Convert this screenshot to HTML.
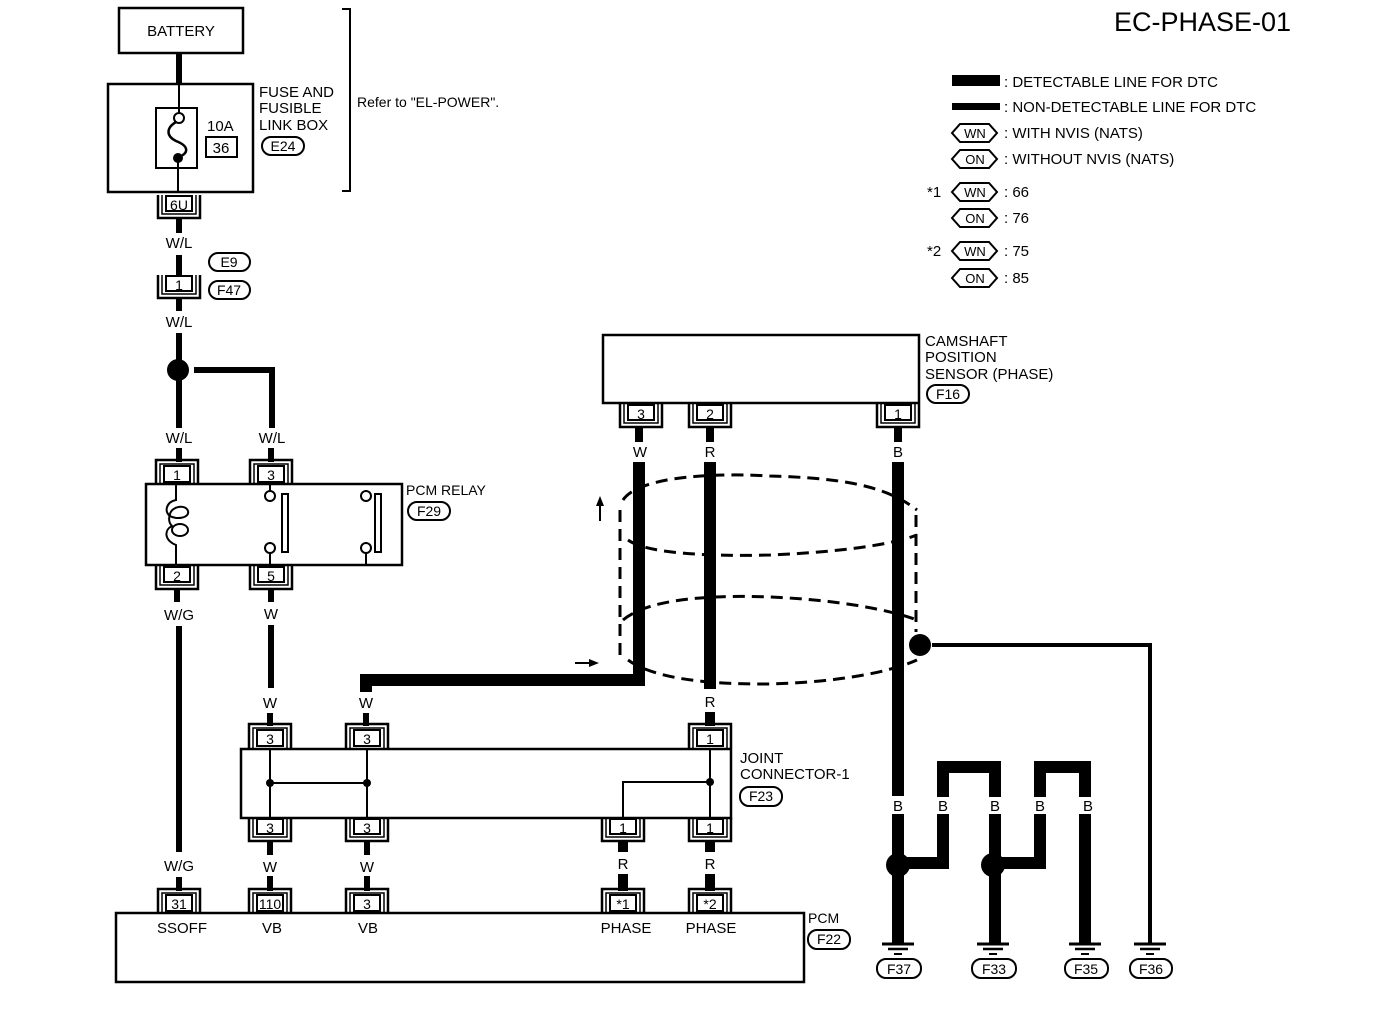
<!DOCTYPE html>
<html><head><meta charset="utf-8"><style>
html,body{margin:0;padding:0;background:#fff;}
svg{display:block;}
text{font-family:"Liberation Sans",Arial,sans-serif;fill:#000;}
</style></head><body>
<svg width="1392" height="1012" viewBox="0 0 1392 1012" xmlns="http://www.w3.org/2000/svg">
<defs>
<g id="cd"><path d="M-21,0 V23 H21 V0" fill="none" stroke="#000" stroke-width="2.5"/><path d="M-17,0 V19 H17 V0" fill="none" stroke="#000" stroke-width="1.5"/><rect x="-13" y="1" width="26" height="15" fill="#fff" stroke="#000" stroke-width="2"/></g>
<g id="cu"><path d="M-21,0 V-24 H21 V0" fill="none" stroke="#000" stroke-width="2.5"/><path d="M-17,0 V-20 H17 V0" fill="none" stroke="#000" stroke-width="1.5"/><rect x="-13" y="-18" width="26" height="16" fill="#fff" stroke="#000" stroke-width="2"/></g>
<g id="gnd"><line x1="-16" y1="0" x2="16" y2="0" stroke="#000" stroke-width="3"/><line x1="-10" y1="5" x2="10" y2="5" stroke="#000" stroke-width="2.5"/><line x1="-4" y1="10" x2="4" y2="10" stroke="#000" stroke-width="2"/></g>
</defs>

<text x="1114" y="31" font-size="27">EC-PHASE-01</text>

<rect x="952" y="75" width="48" height="11" fill="#000"/>
<text x="1004" y="87" font-size="15">: DETECTABLE LINE FOR DTC</text>
<rect x="952" y="103" width="48" height="7" fill="#000"/>
<text x="1004" y="112" font-size="15">: NON-DETECTABLE LINE FOR DTC</text>
<g fill="none" stroke="#000" stroke-width="2">
<polygon points="952,133 960,124 989,124 997,133 989,142 960,142"/>
<polygon points="952,159 960,150 989,150 997,159 989,168 960,168"/>
<polygon points="952,192 960,183 989,183 997,192 989,201 960,201"/>
<polygon points="952,218 960,209 989,209 997,218 989,227 960,227"/>
<polygon points="952,251 960,242 989,242 997,251 989,260 960,260"/>
<polygon points="952,278 960,269 989,269 997,278 989,287 960,287"/>
</g>
<g font-size="13" text-anchor="middle">
<text x="975" y="138">WN</text><text x="975" y="164">ON</text>
<text x="975" y="197">WN</text><text x="975" y="223">ON</text>
<text x="975" y="256">WN</text><text x="975" y="283">ON</text>
</g>
<g font-size="15">
<text x="1004" y="138">: WITH NVIS (NATS)</text>
<text x="1004" y="164">: WITHOUT NVIS (NATS)</text>
<text x="1004" y="197">: 66</text><text x="1004" y="223">: 76</text>
<text x="1004" y="256">: 75</text><text x="1004" y="283">: 85</text>
<text x="927" y="197">*1</text><text x="927" y="256">*2</text>
</g>

<rect x="119" y="8" width="124" height="45" fill="none" stroke="#000" stroke-width="2.5"/>
<text x="181" y="36" font-size="15" text-anchor="middle">BATTERY</text>
<line x1="179" y1="53" x2="179" y2="84" stroke="#000" stroke-width="6"/>
<rect x="108" y="84" width="145" height="108" fill="none" stroke="#000" stroke-width="2.5"/>
<rect x="156" y="108" width="41" height="60" fill="none" stroke="#000" stroke-width="2"/>
<line x1="179" y1="84" x2="179" y2="113" stroke="#000" stroke-width="2"/>
<line x1="178" y1="160" x2="178" y2="192" stroke="#000" stroke-width="2"/>
<circle cx="179" cy="118" r="5" fill="#fff" stroke="#000" stroke-width="2"/>
<circle cx="178" cy="158" r="5" fill="#000"/>
<path d="M176,122 C166,128 166,136 176,141 C189,146 189,153 179,157" fill="none" stroke="#000" stroke-width="2.5"/>
<text x="207" y="131" font-size="15">10A</text>
<rect x="206" y="137" width="31" height="20" fill="none" stroke="#000" stroke-width="2"/>
<text x="221" y="153" font-size="15" text-anchor="middle">36</text>
<g font-size="15"><text x="259" y="97">FUSE AND</text><text x="259" y="113">FUSIBLE</text><text x="259" y="130">LINK BOX</text></g>
<rect x="262" y="137" width="42" height="18" rx="9" fill="none" stroke="#000" stroke-width="2"/>
<text x="283" y="151" font-size="14" text-anchor="middle">E24</text>
<path d="M342,9 H350 V191 H342" fill="none" stroke="#000" stroke-width="2"/>
<text x="357" y="107" font-size="14">Refer to "EL-POWER".</text>

<use href="#cd" x="179" y="195"/><text x="179" y="210" font-size="14" text-anchor="middle">6U</text>
<line x1="179" y1="218" x2="179" y2="233" stroke="#000" stroke-width="6"/>
<text x="179" y="248" font-size="15" text-anchor="middle">W/L</text>
<line x1="179" y1="255" x2="179" y2="276" stroke="#000" stroke-width="6"/>
<use href="#cd" x="179" y="275"/><text x="179" y="290" font-size="14" text-anchor="middle">1</text>
<rect x="209" y="253" width="41" height="18" rx="9" fill="none" stroke="#000" stroke-width="2"/>
<text x="229" y="267" font-size="14" text-anchor="middle">E9</text>
<rect x="209" y="281" width="41" height="18" rx="9" fill="none" stroke="#000" stroke-width="2"/>
<text x="229" y="295" font-size="14" text-anchor="middle">F47</text>
<line x1="179" y1="298" x2="179" y2="311" stroke="#000" stroke-width="6"/>
<text x="179" y="327" font-size="15" text-anchor="middle">W/L</text>
<line x1="179" y1="333" x2="179" y2="428" stroke="#000" stroke-width="6"/>
<circle cx="178" cy="370" r="11" fill="#000"/>
<path d="M194,370 H272 V428" fill="none" stroke="#000" stroke-width="6"/>
<text x="179" y="443" font-size="15" text-anchor="middle">W/L</text>
<text x="272" y="443" font-size="15" text-anchor="middle">W/L</text>
<line x1="179" y1="448" x2="179" y2="462" stroke="#000" stroke-width="6"/>
<line x1="271" y1="448" x2="271" y2="462" stroke="#000" stroke-width="6"/>

<rect x="146" y="484" width="256" height="81" fill="none" stroke="#000" stroke-width="2.5"/>
<use href="#cu" x="177" y="484"/><text x="177" y="480" font-size="14" text-anchor="middle">1</text>
<use href="#cu" x="271" y="484"/><text x="271" y="480" font-size="14" text-anchor="middle">3</text>
<path d="M176,484 V500 C166,502 164,512 170,516 C176,520 190,518 188,511 C186,504 172,506 170,514 C168,520 170,524 172,526 C164,530 164,540 176,545 V565" fill="none" stroke="#000" stroke-width="2"/>
<ellipse cx="180" cy="530" rx="8" ry="6" fill="none" stroke="#000" stroke-width="2"/>
<line x1="270" y1="484" x2="270" y2="491" stroke="#000" stroke-width="2"/>
<circle cx="270" cy="496" r="5" fill="#fff" stroke="#000" stroke-width="2"/>
<circle cx="270" cy="548" r="5" fill="#fff" stroke="#000" stroke-width="2"/>
<line x1="270" y1="553" x2="270" y2="565" stroke="#000" stroke-width="2"/>
<rect x="282" y="494" width="6" height="58" fill="#fff" stroke="#000" stroke-width="2"/>
<circle cx="366" cy="496" r="5" fill="#fff" stroke="#000" stroke-width="2"/>
<circle cx="366" cy="548" r="5" fill="#fff" stroke="#000" stroke-width="2"/>
<line x1="366" y1="553" x2="366" y2="565" stroke="#000" stroke-width="2"/>
<rect x="375" y="494" width="6" height="58" fill="#fff" stroke="#000" stroke-width="2"/>
<text x="406" y="495" font-size="14">PCM RELAY</text>
<rect x="408" y="502" width="42" height="18" rx="9" fill="none" stroke="#000" stroke-width="2"/>
<text x="429" y="516" font-size="14" text-anchor="middle">F29</text>
<use href="#cd" x="177" y="566"/><text x="177" y="581" font-size="14" text-anchor="middle">2</text>
<use href="#cd" x="271" y="566"/><text x="271" y="581" font-size="14" text-anchor="middle">5</text>

<line x1="177" y1="589" x2="177" y2="602" stroke="#000" stroke-width="6"/>
<text x="179" y="620" font-size="15" text-anchor="middle">W/G</text>
<line x1="179" y1="626" x2="179" y2="852" stroke="#000" stroke-width="6"/>
<text x="179" y="871" font-size="15" text-anchor="middle">W/G</text>
<line x1="179" y1="877" x2="179" y2="891" stroke="#000" stroke-width="6"/>
<line x1="271" y1="589" x2="271" y2="602" stroke="#000" stroke-width="6"/>
<text x="271" y="619" font-size="15" text-anchor="middle">W</text>
<line x1="271" y1="625" x2="271" y2="688" stroke="#000" stroke-width="6"/>
<text x="270" y="708" font-size="15" text-anchor="middle">W</text>
<line x1="270" y1="713" x2="270" y2="726" stroke="#000" stroke-width="6"/>

<rect x="603" y="335" width="316" height="68" fill="none" stroke="#000" stroke-width="2.5"/>
<g font-size="15"><text x="925" y="346">CAMSHAFT</text><text x="925" y="362">POSITION</text><text x="925" y="379">SENSOR (PHASE)</text></g>
<rect x="927" y="385" width="42" height="18" rx="9" fill="none" stroke="#000" stroke-width="2"/>
<text x="948" y="399" font-size="14" text-anchor="middle">F16</text>
<use href="#cd" x="641" y="404"/><text x="641" y="419" font-size="14" text-anchor="middle">3</text>
<use href="#cd" x="710" y="404"/><text x="710" y="419" font-size="14" text-anchor="middle">2</text>
<use href="#cd" x="898" y="404"/><text x="898" y="419" font-size="14" text-anchor="middle">1</text>
<line x1="639" y1="427" x2="639" y2="442" stroke="#000" stroke-width="8"/>
<line x1="710" y1="427" x2="710" y2="442" stroke="#000" stroke-width="8"/>
<line x1="898" y1="427" x2="898" y2="442" stroke="#000" stroke-width="8"/>
<text x="640" y="457" font-size="15" text-anchor="middle">W</text>
<text x="710" y="457" font-size="15" text-anchor="middle">R</text>
<text x="898" y="457" font-size="15" text-anchor="middle">B</text>
<path d="M639,462 V680 H366 V692" fill="none" stroke="#000" stroke-width="12"/>
<line x1="710" y1="462" x2="710" y2="689" stroke="#000" stroke-width="12"/>
<line x1="898" y1="462" x2="898" y2="796" stroke="#000" stroke-width="12"/>
<text x="366" y="708" font-size="15" text-anchor="middle">W</text>
<line x1="366" y1="713" x2="366" y2="726" stroke="#000" stroke-width="6"/>
<text x="710" y="707" font-size="15" text-anchor="middle">R</text>
<line x1="710" y1="712" x2="710" y2="726" stroke="#000" stroke-width="10"/>

<g fill="none" stroke="#000" stroke-width="3" stroke-dasharray="12,7">
<path d="M623,500 C640,475 720,473 770,476 C840,478 885,485 917,510"/>
<path d="M628,540 C650,556 730,556 770,555 C840,552 890,545 917,535"/>
<path d="M623,620 C650,597 720,595 770,597 C840,600 890,610 917,620"/>
<path d="M628,660 C660,683 730,684 770,684 C840,682 890,672 917,660"/>
<path d="M620,510 V655"/>
<path d="M916,515 V632"/>
</g>
<circle cx="920" cy="645" r="11" fill="#000"/>
<path d="M932,645 H1150 V945" fill="none" stroke="#000" stroke-width="4"/>
<path d="M600,521 V503" stroke="#000" stroke-width="2"/>
<polygon points="600,496 596,506 604,506" fill="#000"/>
<path d="M575,663 H592" stroke="#000" stroke-width="2"/>
<polygon points="599,663 589,659 589,667" fill="#000"/>

<use href="#cu" x="270" y="748"/><text x="270" y="744" font-size="14" text-anchor="middle">3</text>
<use href="#cu" x="367" y="748"/><text x="367" y="744" font-size="14" text-anchor="middle">3</text>
<use href="#cu" x="710" y="748"/><text x="710" y="744" font-size="14" text-anchor="middle">1</text>
<rect x="241" y="749" width="490" height="69" fill="none" stroke="#000" stroke-width="2.5"/>
<g stroke="#000" stroke-width="2" fill="none">
<path d="M270,749 V818 M367,749 V818 M270,783 H367"/>
<path d="M710,749 V818 M710,782 H623 V818"/>
</g>
<circle cx="270" cy="783" r="4" fill="#000"/><circle cx="367" cy="783" r="4" fill="#000"/><circle cx="710" cy="782" r="4" fill="#000"/>
<g font-size="15"><text x="740" y="763">JOINT</text><text x="740" y="779">CONNECTOR-1</text></g>
<rect x="740" y="787" width="42" height="19" rx="9" fill="none" stroke="#000" stroke-width="2"/>
<text x="761" y="801" font-size="14" text-anchor="middle">F23</text>
<use href="#cd" x="270" y="818"/><text x="270" y="833" font-size="14" text-anchor="middle">3</text>
<use href="#cd" x="367" y="818"/><text x="367" y="833" font-size="14" text-anchor="middle">3</text>
<use href="#cd" x="623" y="818"/><text x="623" y="833" font-size="14" text-anchor="middle">1</text>
<use href="#cd" x="710" y="818"/><text x="710" y="833" font-size="14" text-anchor="middle">1</text>
<g stroke="#000" stroke-width="6">
<line x1="270" y1="841" x2="270" y2="855"/><line x1="367" y1="841" x2="367" y2="855"/>
<line x1="270" y1="876" x2="270" y2="891"/><line x1="367" y1="876" x2="367" y2="891"/>
</g>
<g stroke="#000" stroke-width="10">
<line x1="623" y1="841" x2="623" y2="852"/><line x1="710" y1="841" x2="710" y2="852"/>
<line x1="623" y1="874" x2="623" y2="891"/><line x1="710" y1="874" x2="710" y2="891"/>
</g>
<g font-size="15" text-anchor="middle">
<text x="270" y="872">W</text><text x="367" y="872">W</text><text x="623" y="869">R</text><text x="710" y="869">R</text>
</g>

<rect x="116" y="913" width="688" height="69" fill="none" stroke="#000" stroke-width="2.5"/>
<use href="#cu" x="179" y="913"/><text x="179" y="909" font-size="14" text-anchor="middle">31</text>
<use href="#cu" x="270" y="913"/><text x="270" y="909" font-size="14" text-anchor="middle">110</text>
<use href="#cu" x="367" y="913"/><text x="367" y="909" font-size="14" text-anchor="middle">3</text>
<use href="#cu" x="623" y="913"/><text x="623" y="909" font-size="14" text-anchor="middle">*1</text>
<use href="#cu" x="710" y="913"/><text x="710" y="909" font-size="14" text-anchor="middle">*2</text>
<g font-size="15" text-anchor="middle">
<text x="182" y="933">SSOFF</text><text x="272" y="933">VB</text><text x="368" y="933">VB</text>
<text x="626" y="933">PHASE</text><text x="711" y="933">PHASE</text>
</g>
<text x="808" y="923" font-size="14">PCM</text>
<rect x="808" y="930" width="42" height="19" rx="9" fill="none" stroke="#000" stroke-width="2"/>
<text x="829" y="944" font-size="14" text-anchor="middle">F22</text>

<g fill="none" stroke="#000" stroke-width="12">
<path d="M943,797 V767 H995 V797"/>
<path d="M1040,797 V767 H1085 V797"/>
<path d="M898,814 V945"/>
<path d="M943,814 V863 H906"/>
<path d="M995,814 V945"/>
<path d="M1040,814 V863 H1002"/>
<path d="M1085,814 V945"/>
</g>
<circle cx="898" cy="865" r="12" fill="#000"/>
<circle cx="993" cy="865" r="12" fill="#000"/>
<g font-size="15" text-anchor="middle">
<text x="898" y="811">B</text><text x="943" y="811">B</text><text x="995" y="811">B</text><text x="1040" y="811">B</text><text x="1088" y="811">B</text>
</g>
<use href="#gnd" x="898" y="944"/><use href="#gnd" x="993" y="944"/><use href="#gnd" x="1085" y="944"/><use href="#gnd" x="1150" y="944"/>
<g fill="none" stroke="#000" stroke-width="2">
<rect x="877" y="959" width="44" height="19" rx="9"/><rect x="972" y="959" width="44" height="19" rx="9"/>
<rect x="1065" y="959" width="43" height="19" rx="9"/><rect x="1130" y="959" width="42" height="19" rx="9"/>
</g>
<g font-size="14" text-anchor="middle">
<text x="899" y="974">F37</text><text x="994" y="974">F33</text><text x="1086" y="974">F35</text><text x="1151" y="974">F36</text>
</g>
</svg>
</body></html>
